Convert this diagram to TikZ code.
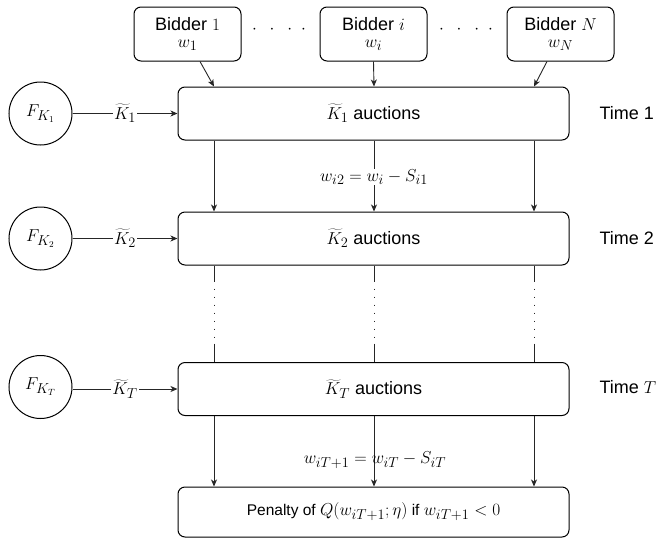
\documentclass[tikz,border=0pt]{standalone}
\usepackage[no-math]{fontspec}
\setmainfont{Liberation Sans}
\usetikzlibrary{arrows.meta}

% formulas are set a little larger than the surrounding text
\newcommand{\mth}[1]{{\fontsize{19}{22}\selectfont$#1$}}

\begin{document}
\begin{tikzpicture}[x=1pt,y=-1pt,
  font=\fontsize{18}{20}\selectfont,
  wire/.style={line width=0.9pt, draw=black!85},
  link/.style={wire, -{Stealth[length=7pt,width=6pt,inset=2pt]}},
  stagebox/.style={draw, line width=1pt, rounded corners=7pt,
    minimum width=391pt, minimum height=53pt, inner sep=0pt},
  bidder/.style={draw, line width=1pt, rounded corners=7pt,
    minimum width=107pt, minimum height=54pt, inner sep=0pt, align=center},
  dist/.style={draw, line width=1pt, circle, minimum size=63pt, inner sep=0pt},
  klabel/.style={fill=white, inner sep=1pt},
  dotline/.style={wire, dash pattern=on 1.3pt off 6.7pt}
]
\useasboundingbox (0,0) rectangle (657,539);

% bidders
\node[bidder] (b1) at (187.5,34) {Bidder \mth{1}\\[-3pt]\mth{w_1}};
\node[bidder] (bi) at (373.5,34) {Bidder \mth{i}\\[-3pt]\mth{w_i}};
\node[bidder] (bN) at (560.5,34) {Bidder \mth{N}\\[-3pt]\mth{w_N}};
\node (d1) at (279,30) {\mth{\cdot\hspace{9pt}\cdot\hspace{9pt}\cdot\hspace{9pt}\cdot}};
\node (d2) at (466,30) {\mth{\cdot\hspace{9pt}\cdot\hspace{9pt}\cdot\hspace{9pt}\cdot}};

% columns of the per-bidder flows
\coordinate (c1) at (214,0);
\coordinate (c2) at (374,0);
\coordinate (c3) at (534,0);

% auction stages
\node[stagebox] (k1) at (373.5,113.5) {\mth{\widetilde{K}_1} auctions};
\node[stagebox] (k2) at (373.5,238.5) {\mth{\widetilde{K}_2} auctions};
\node[stagebox] (kT) at (373.5,389) {\mth{\widetilde{K}_T} auctions};
\node[stagebox, minimum height=50pt] (pen) at (373.5,512)
  {\fontsize{15.5}{17}\selectfont Penalty of \mth{Q(w_{iT+1};\eta)} if \mth{w_{iT+1}<0}};

% distributions of the number of auctions
\node[dist] (f1) at (40.5,113.5) {\mth{F_{K_1}}};
\node[dist] (f2) at (40.5,238.5) {\mth{F_{K_2}}};
\node[dist] (fT) at (40.5,387) {\mth{F_{K_T}}};

\draw[link] (f1) -- node[klabel] {\mth{\widetilde{K}_1}} (k1);
\draw[link] (f2) -- node[klabel] {\mth{\widetilde{K}_2}} (k2);
\draw[link] (fT.east |- kT.west) -- node[klabel] {\mth{\widetilde{K}_T}} (kT);

% bidders enter the first stage
\draw[link] ([xshift=12.5pt]b1.south) -- (k1.north -| c1);
\draw[link] (bi.south) -- (k1.north -| c2);
\draw[link] ([xshift=-13.5pt]bN.south) -- (k1.north -| c3);

% stage 1 to stage 2
\foreach \c in {c1,c2,c3}
  \draw[link] (k1.south -| \c) -- (k2.north -| \c);
\node[fill=white, inner sep=0.5pt] (u1) at (374,177) {\mth{w_{i2} = w_i - S_{i1}}};

% intermediate stages
\foreach \c in {c1,c2,c3} {
  \draw[wire] (k2.south -| \c) -- ++(0,15) coordinate (p);
  \draw[dotline] (p) -- ++(0,63) coordinate (q);
  \draw[wire] (q) -- (kT.north -| \c);
}

% last stage to penalty
\foreach \c in {c1,c2,c3}
  \draw[link] (kT.south -| \c) -- (pen.north -| \c);
\node (uT) at (375,460) {\mth{w_{iT+1} = w_{iT} - S_{iT}}};

% time labels
\node[anchor=west] (t1) at (596,113.5) {Time 1};
\node[anchor=west] (t2) at (596,238.5) {Time 2};
\node[anchor=west] (tT) at (596,387) {Time \mth{T}};
\end{tikzpicture}
\end{document}
